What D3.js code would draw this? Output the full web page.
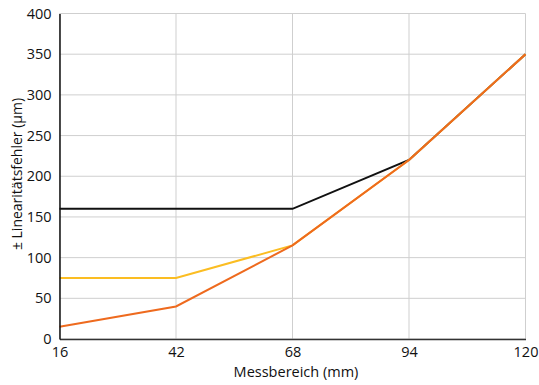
<!DOCTYPE html>
<html>
<head>
<meta charset="utf-8">
<script src="https://cdn.jsdelivr.net/npm/d3@7"></script>
<style>
  body { margin: 0; background: #fff; }
  svg text { font-family: "Open Sans", sans-serif; fill: #111; }
</style>
</head>
<body>
<div id="chart"></div>
<script>
// data
var xTicks = [16, 42, 68, 94, 120];
var yTicks = [0, 50, 100, 150, 200, 250, 300, 350, 400];
var blackSeries  = [160, 160, 160, 220, 350];
var yellowSeries = [75, 75, 115, 220, 350];
var orangeSeries = [15, 40, 115, 220, 350];
var series = [
  { values: blackSeries,  color: "#111111" },
  { values: yellowSeries, color: "#fbbd22" },
  { values: orangeSeries, color: "#ee6a1e" }
];

var width = 539, height = 385;
var margin = { top: 13.5, right: 13.5, bottom: 46, left: 59.5 };

var svg = d3.select("#chart").append("svg")
  .attr("width", width)
  .attr("height", height);

var x = d3.scaleLinear().domain([16, 120]).range([margin.left, width - margin.right]);
var y = d3.scaleLinear().domain([0, 400]).range([height - margin.bottom, margin.top]);

// grid
var grid = svg.append("g");
grid.selectAll(".hg").data(yTicks).enter().append("line")
  .attr("x1", x(16)).attr("x2", x(120))
  .attr("y1", function(d) { return y(d); })
  .attr("y2", function(d) { return y(d); })
  .attr("stroke", "#cfcfcf").attr("stroke-width", 1);
grid.selectAll(".vg").data(xTicks).enter().append("line")
  .attr("y1", y(0)).attr("y2", y(400))
  .attr("x1", function(d) { return x(d); })
  .attr("x2", function(d) { return x(d); })
  .attr("stroke", "#cfcfcf").attr("stroke-width", 1);

// lines
var line = d3.line()
  .x(function(d, i) { return x(xTicks[i]); })
  .y(function(d) { return y(d); });
svg.selectAll(".series").data(series).enter().append("path")
  .attr("d", function(d) { return line(d.values); })
  .attr("fill", "none")
  .attr("stroke", function(d) { return d.color; })
  .attr("stroke-width", 2);

// axes
var xAxis = svg.append("g")
  .attr("transform", "translate(0," + y(0) + ")")
  .call(d3.axisBottom(x).tickValues(xTicks).tickSize(0).tickPadding(8));
xAxis.select(".domain").attr("stroke", "#333").attr("stroke-width", 1.5);
xAxis.selectAll("text").style("font-size", "14.5px").attr("fill", "#111");

var yAxis = svg.append("g")
  .attr("transform", "translate(" + x(16) + ",0)")
  .call(d3.axisLeft(y).tickValues(yTicks).tickSize(0).tickPadding(8));
yAxis.select(".domain").attr("stroke", "#111").attr("stroke-width", 1.5);
yAxis.selectAll("text").style("font-size", "14.5px").attr("fill", "#111");

// titles
svg.append("text")
  .attr("x", 296)
  .attr("y", 377)
  .attr("text-anchor", "middle")
  .style("font-size", "14.5px")
  .text("Messbereich (mm)");

svg.append("text")
  .attr("transform", "translate(22," + 174 + ") rotate(-90)")
  .attr("text-anchor", "middle")
  .style("font-size", "14px")
  .text("± Linearitätsfehler (µm)");
</script>
</body>
</html>
